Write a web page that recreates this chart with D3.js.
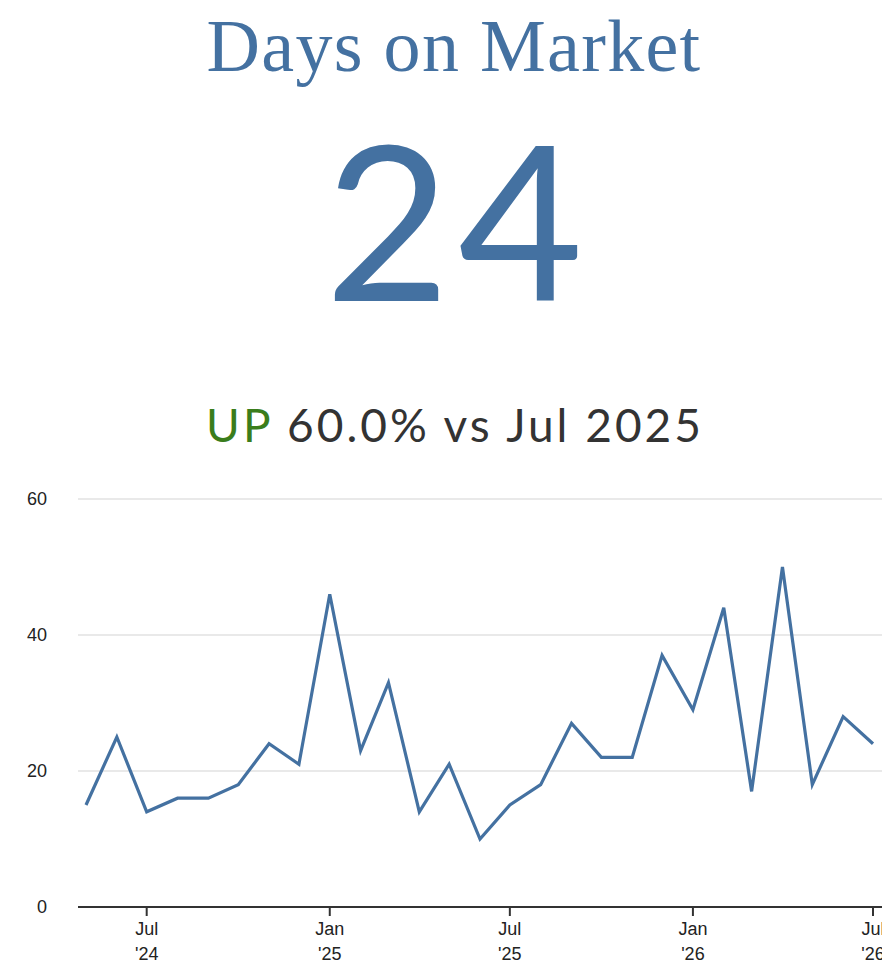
<!DOCTYPE html>
<html>
<head>
<meta charset="utf-8">
<script src="https://cdn.jsdelivr.net/npm/d3@7"></script>
<style>
  body { margin: 0; background: #fff; }
</style>
</head>
<body>
<div id="app"></div>
<script>
// --- Data ---
const months = [
    "2024-05", "2024-06", "2024-07", "2024-08", "2024-09", "2024-10", "2024-11", "2024-12",
    "2025-01", "2025-02", "2025-03", "2025-04", "2025-05", "2025-06", "2025-07", "2025-08",
    "2025-09", "2025-10", "2025-11", "2025-12", "2026-01", "2026-02", "2026-03", "2026-04",
    "2026-05", "2026-06", "2026-07"
];
const values = [
    15, 25, 14, 16, 16, 18, 24, 21,
    46, 23, 33, 14, 21, 10, 15, 18,
    27, 22, 22, 37, 29, 44, 17, 50,
    18, 28, 24
];
const yTicks = [0, 20, 40, 60];
const xTicks = ["2024-07", "2025-01", "2025-07", "2026-01", "2026-07"];

const title = "Days on Market";
const bigNumber = "24";
const changeWord = "UP";
const changeText = "60.0% vs Jul 2025";

const blue = "#4471a1";
const width = 882;
const height = 974;
const cx = 454;

const parseMonth = d3.timeParse("%Y-%m");
const points = months.map((m, i) => ({ date: parseMonth(m), value: values[i] }));

const svg = d3.select("#app")
    .append("svg")
    .attr("width", width)
    .attr("height", height)
    .style("display", "block");

// --- Header ---
svg.append("text")
    .attr("x", cx)
    .attr("y", 71)
    .attr("text-anchor", "middle")
    .attr("font-family", "'Liberation Serif', 'Times New Roman', serif")
    .attr("font-size", 74)
    .attr("letter-spacing", 1.3)
    .attr("fill", blue)
    .text(title);

svg.append("text")
    .attr("x", cx + 4)
    .attr("y", 301)
    .attr("text-anchor", "middle")
    .attr("font-family", "Lato, sans-serif")
    .attr("font-size", 216)
    .attr("letter-spacing", 8)
    .attr("fill", blue)
    .text(bigNumber);

const sub = svg.append("text")
    .attr("x", cx + 1)
    .attr("y", 442)
    .attr("text-anchor", "middle")
    .attr("font-family", "Lato, sans-serif")
    .attr("font-size", 46)
    .attr("letter-spacing", 3)
    .attr("fill", "#333");
sub.append("tspan").attr("fill", "#3a7d1c").text(changeWord);
sub.append("tspan").text(" " + changeText);

// --- Chart ---
const plotLeft = 78, plotRight = 882;
const x = d3.scaleTime()
    .domain(d3.extent(points, d => d.date))
    .range([86, 873]);
const y = d3.scaleLinear()
    .domain([0, 60])
    .range([907, 499]);

const grid = svg.append("g");
grid.selectAll("line")
    .data(yTicks.filter(t => t > 0))
    .join("line")
    .attr("x1", plotLeft)
    .attr("x2", plotRight)
    .attr("y1", d => y(d))
    .attr("y2", d => y(d))
    .attr("stroke", "#e2e2e2")
    .attr("stroke-width", 1.5);

svg.append("g")
    .selectAll("text")
    .data(yTicks)
    .join("text")
    .attr("x", 47)
    .attr("y", d => y(d))
    .attr("dy", "0.35em")
    .attr("text-anchor", "end")
    .attr("font-family", "'Liberation Sans', Arial, sans-serif")
    .attr("font-size", 18)
    .attr("fill", "#222")
    .text(d => d);

// x axis
const xAxis = svg.append("g");
xAxis.append("line")
    .attr("x1", plotLeft)
    .attr("x2", plotRight)
    .attr("y1", y(0))
    .attr("y2", y(0))
    .attr("stroke", "#333")
    .attr("stroke-width", 2);

const tick = xAxis.selectAll("g.tick")
    .data(xTicks.map(parseMonth))
    .join("g")
    .attr("class", "tick")
    .attr("transform", d => `translate(${x(d)},${y(0)})`);

tick.append("line")
    .attr("y1", 0)
    .attr("y2", 9)
    .attr("stroke", "#333")
    .attr("stroke-width", 2);

const tickLabel = tick.append("text")
    .attr("text-anchor", "middle")
    .attr("font-family", "'Liberation Sans', Arial, sans-serif")
    .attr("font-size", 18)
    .attr("fill", "#222");
tickLabel.append("tspan").attr("x", 0).attr("y", 28).text(d => d3.timeFormat("%b")(d));
tickLabel.append("tspan").attr("x", 0).attr("y", 53).text(d => "'" + d3.timeFormat("%y")(d));

// line
const line = d3.line()
    .x(d => x(d.date))
    .y(d => y(d.value));

svg.append("path")
    .datum(points)
    .attr("d", line)
    .attr("fill", "none")
    .attr("stroke", blue)
    .attr("stroke-width", 3.2)
    .attr("stroke-linejoin", "miter");
</script>
</body>
</html>
